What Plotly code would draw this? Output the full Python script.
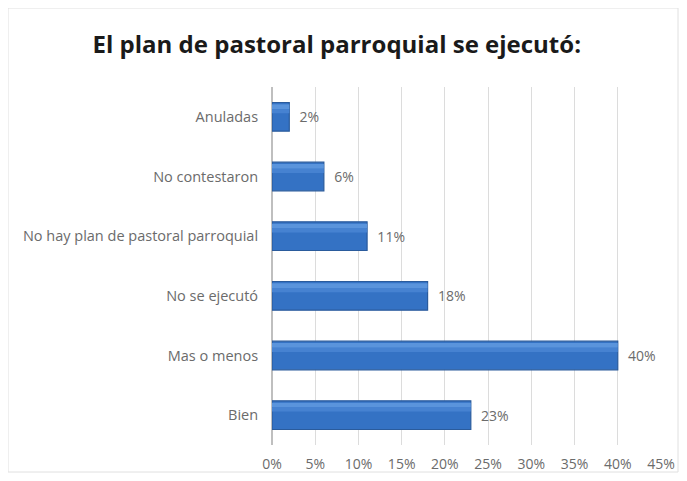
import plotly.graph_objects as go

categories = ["Bien", "Mas o menos", "No se ejecutó", "No hay plan de pastoral parroquial",
              "No contestaron", "Anuladas"]
values = [0.23, 0.40, 0.18, 0.11, 0.06, 0.02]
value_labels = ["23%", "40%", "18%", "11%", "6%", "2%"]
tick_vals = [0, 0.05, 0.10, 0.15, 0.20, 0.25, 0.30, 0.35, 0.40, 0.45]
tick_text = ["0%", "5%", "10%", "15%", "20%", "25%", "30%", "35%", "40%", "45%"]

FONT = "Open Sans"
LBL = "#6b6b6b"
BW = 0.48
fig = go.Figure()
# main bar body
fig.add_trace(go.Bar(
    y=categories, x=values, orientation="h",
    text=["  " + t for t in value_labels], textposition="outside",
    textfont=dict(size=14, color=LBL, family=FONT),
    marker=dict(color="#3472c4", line=dict(color="#2a5b9c", width=1.2)),
    width=BW, offset=-BW / 2, cliponaxis=False, hoverinfo="skip",
))
# soft highlight along the top of each bar (gradient look)
fig.add_trace(go.Bar(
    y=categories, x=values, orientation="h",
    marker=dict(color="#5a94dc", line=dict(width=0)),
    width=0.08, offset=BW / 2 - 0.11, hoverinfo="skip",
))
fig.add_trace(go.Bar(
    y=categories, x=values, orientation="h",
    marker=dict(color="#4682d1", line=dict(width=0)),
    width=0.07, offset=BW / 2 - 0.18, hoverinfo="skip",
))
W, H = 671, 465
L, R, T, B = 264, 18, 79, 28
pw, ph = W - L - R, H - T - B
fig.update_layout(
    width=W, height=H,
    barmode="overlay",
    paper_bgcolor="white", plot_bgcolor="white",
    margin=dict(l=L, r=R, t=T, b=B),
    showlegend=False,
    title=dict(text="<b>El plan de pastoral parroquial se ejecutó:</b>",
               x=0.49, xanchor="center", y=1 - 37 / H, yanchor="middle",
               font=dict(size=24, color="#1a1a1a", family=FONT)),
    xaxis=dict(range=[0, 0.45], tickvals=tick_vals, ticktext=tick_text,
               showgrid=True, gridcolor="#dcdcdc", gridwidth=1, zeroline=True,
               zerolinecolor="#bfbfbf", ticks="outside", ticklen=6, tickcolor="rgba(0,0,0,0)",
               tickfont=dict(size=14, color=LBL, family=FONT),
               showline=False, automargin=False),
    yaxis=dict(showgrid=False, ticks="outside", ticklen=10, tickcolor="rgba(0,0,0,0)",
               tickfont=dict(size=14.5, color=LBL, family=FONT),
               showline=False, automargin=False),
    shapes=[dict(type="rect", xref="paper", yref="paper", x0=-L / pw, x1=1 + (R - 1) / pw,
                 y0=-(B - 1) / ph, y1=1 + T / ph, line=dict(color="#e0e0e0", width=1))],
)
fig.write_html("out.html")
